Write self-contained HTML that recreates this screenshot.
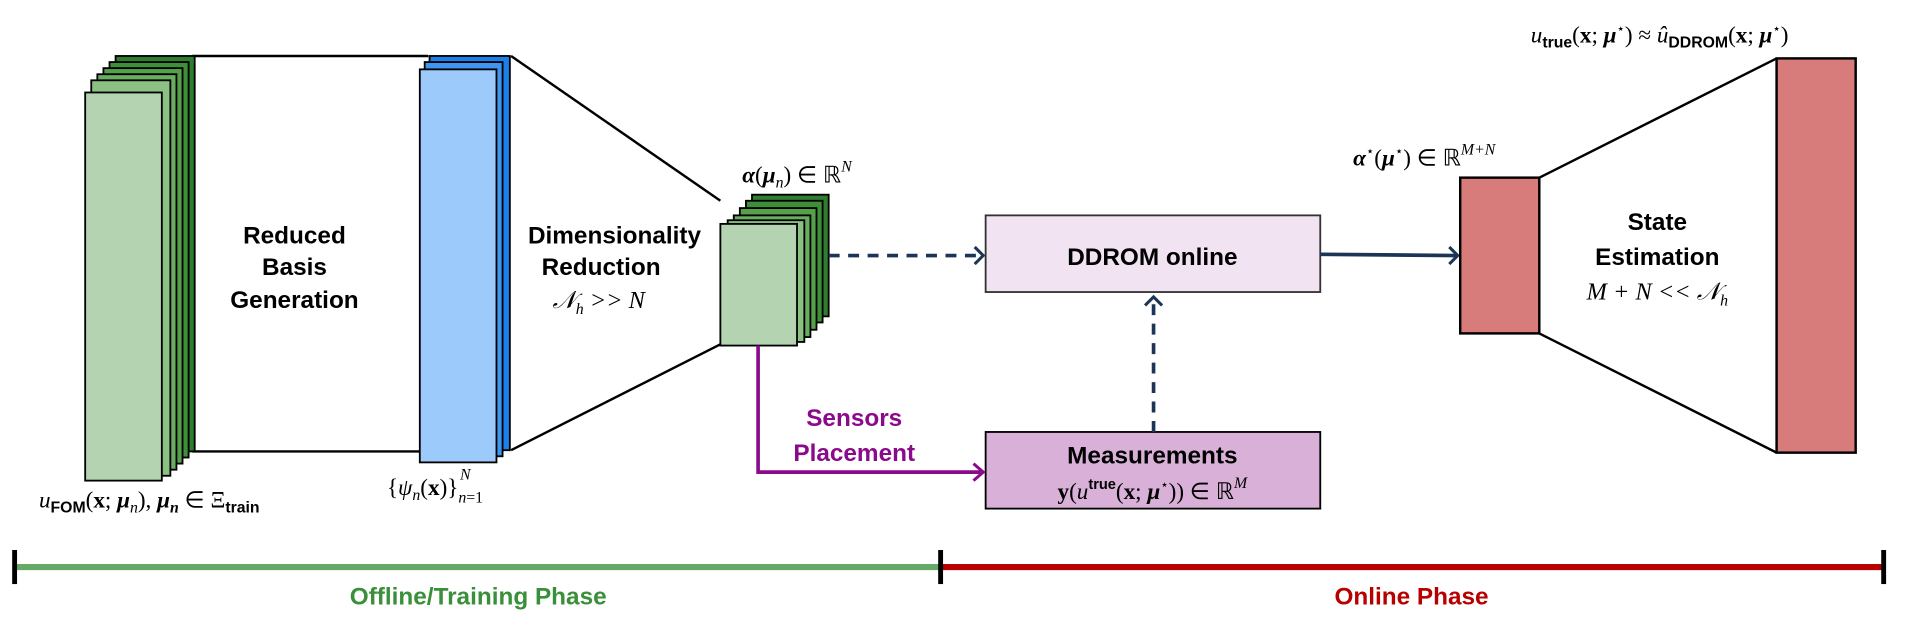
<!DOCTYPE html>
<html><head><meta charset="utf-8"><style>
html,body{margin:0;padding:0;background:#fff;}
svg{display:block;}
.b{font-family:"Liberation Sans",sans-serif;font-weight:bold;}
.m{font-family:"Liberation Serif",serif;font-style:italic;}
</style></head><body>
<svg width="1908" height="632" viewBox="0 0 1568 519.4" preserveAspectRatio="none" xmlns="http://www.w3.org/2000/svg">
<rect width="1568" height="520" fill="#fff"/>
<line x1="158" y1="46" x2="352" y2="46" stroke="#000" stroke-width="2"/>
<line x1="158" y1="371" x2="352" y2="371" stroke="#000" stroke-width="2"/>
<rect x="95" y="46" width="65" height="325" fill="#2f7d2f" stroke="#000" stroke-width="1.5"/>
<rect x="90" y="51" width="65" height="325" fill="#3f8f3a" stroke="#000" stroke-width="1.5"/>
<rect x="85" y="56" width="65" height="325" fill="#56a04c" stroke="#000" stroke-width="1.5"/>
<rect x="80" y="61" width="65" height="325" fill="#6aad62" stroke="#000" stroke-width="1.5"/>
<rect x="75" y="66" width="65" height="325" fill="#8cc184" stroke="#000" stroke-width="1.5"/>
<rect x="70" y="76" width="63" height="319" fill="#b3d3b1" stroke="#000" stroke-width="1.5"/>
<rect x="353" y="46" width="66" height="324" fill="#1a7fe8" stroke="#000" stroke-width="1.5"/>
<rect x="349" y="51" width="64" height="324" fill="#3f95f0" stroke="#000" stroke-width="1.5"/>
<rect x="345" y="57" width="63" height="323" fill="#9ccafb" stroke="#000" stroke-width="1.5"/>
<line x1="420" y1="46" x2="592" y2="165" stroke="#000" stroke-width="2"/>
<line x1="420" y1="370" x2="592" y2="283" stroke="#000" stroke-width="2"/>
<rect x="618" y="160" width="63" height="100" fill="#2f7d2f" stroke="#000" stroke-width="1.5"/>
<rect x="613" y="165" width="63" height="100" fill="#3f8f3a" stroke="#000" stroke-width="1.5"/>
<rect x="608" y="171" width="63" height="100" fill="#56a04c" stroke="#000" stroke-width="1.5"/>
<rect x="603" y="177" width="63" height="100" fill="#6aad62" stroke="#000" stroke-width="1.5"/>
<rect x="598" y="181" width="63" height="100" fill="#8cc184" stroke="#000" stroke-width="1.5"/>
<rect x="592" y="184" width="63" height="100" fill="#b3d3b1" stroke="#000" stroke-width="1.5"/>
<line x1="681" y1="210" x2="806" y2="210" stroke="#1c3557" stroke-width="3" stroke-dasharray="9,7"/>
<polyline points="801,203 808,210 801,217" fill="none" stroke="#1c3557" stroke-width="2.5"/>
<rect x="810" y="177" width="275" height="63" fill="#f1e3f1" stroke="#333" stroke-width="1.5"/>
<text x="947" y="218" class="b" font-size="20" text-anchor="middle">DDROM online</text>
<rect x="810" y="355" width="275" height="63" fill="#d8b0d8" stroke="#000" stroke-width="1.5"/>
<text x="947" y="381" class="b" font-size="20" text-anchor="middle">Measurements</text>
<text x="947" y="410" font-family="Liberation Serif,serif" font-size="19" text-anchor="middle"><tspan font-weight="bold">y</tspan>(<tspan font-style="italic">u</tspan><tspan class="b" font-size="12" dy="-8">true</tspan><tspan dy="8">(</tspan><tspan font-weight="bold">x</tspan>; <tspan font-weight="bold" font-style="italic">μ</tspan><tspan font-size="11" dy="-8">⋆</tspan><tspan dy="8">)) ∈ ℝ</tspan><tspan font-style="italic" font-size="13" dy="-9">M</tspan></text>
<line x1="948" y1="355" x2="948" y2="246" stroke="#1c3557" stroke-width="3" stroke-dasharray="9,7"/>
<polyline points="941,251 948,244 955,251" fill="none" stroke="#1c3557" stroke-width="2.5"/>
<polyline points="623,284 623,388 806,388" fill="none" stroke="#8b0a8b" stroke-width="3"/>
<polyline points="800,381 808,388 800,395" fill="none" stroke="#8b0a8b" stroke-width="2.5"/>
<text x="702" y="350" class="b" font-size="20" fill="#8b0a8b" text-anchor="middle">Sensors</text>
<text x="702" y="379" class="b" font-size="20" fill="#8b0a8b" text-anchor="middle">Placement</text>
<line x1="1085" y1="209" x2="1197" y2="210" stroke="#1c3557" stroke-width="3"/>
<polyline points="1191,203 1198,210 1191,217" fill="none" stroke="#1c3557" stroke-width="2.5"/>
<rect x="1200" y="146" width="65" height="128" fill="#d87b7b" stroke="#000" stroke-width="2"/>
<line x1="1265" y1="146" x2="1460" y2="48" stroke="#000" stroke-width="2"/>
<line x1="1265" y1="274" x2="1460" y2="372" stroke="#000" stroke-width="2"/>
<rect x="1460" y="48" width="65" height="324" fill="#d87b7b" stroke="#000" stroke-width="2"/>
<text x="1362" y="189" class="b" font-size="20" text-anchor="middle">State</text>
<text x="1362" y="218" class="b" font-size="20" text-anchor="middle">Estimation</text>
<text x="1362" y="246" class="m" font-size="20" text-anchor="middle">M + N &lt;&lt; 𝒩<tspan font-size="13" dy="5">h</tspan></text>
<text x="242" y="200" class="b" font-size="20" text-anchor="middle">Reduced</text>
<text x="242" y="226" class="b" font-size="20" text-anchor="middle">Basis</text>
<text x="242" y="253" class="b" font-size="20" text-anchor="middle">Generation</text>
<text x="505" y="200" class="b" font-size="20" text-anchor="middle">Dimensionality</text>
<text x="494" y="226" class="b" font-size="20" text-anchor="middle">Reduction</text>
<text x="492" y="253" class="m" font-size="20" text-anchor="middle">𝒩<tspan font-size="13" dy="5">h</tspan><tspan dy="-5"> &gt;&gt; N</tspan></text>
<text x="610" y="150" font-family="Liberation Serif,serif" font-size="19"><tspan font-weight="bold" font-style="italic">α</tspan>(<tspan font-weight="bold" font-style="italic">μ</tspan><tspan font-style="italic" font-size="13" dy="4">n</tspan><tspan dy="-4">) ∈ ℝ</tspan><tspan font-style="italic" font-size="13" dy="-9">N</tspan></text>
<text x="1112" y="136" font-family="Liberation Serif,serif" font-size="19"><tspan font-weight="bold" font-style="italic">α</tspan><tspan font-size="11" dy="-8">⋆</tspan><tspan dy="8">(</tspan><tspan font-weight="bold" font-style="italic">μ</tspan><tspan font-size="11" dy="-8">⋆</tspan><tspan dy="8">) ∈ ℝ</tspan><tspan font-style="italic" font-size="13" dy="-9">M+N</tspan></text>
<text x="1258" y="35" font-family="Liberation Serif,serif" font-size="19"><tspan font-style="italic">u</tspan><tspan class="b" font-size="13" dy="4">true</tspan><tspan dy="-4">(</tspan><tspan font-weight="bold">x</tspan>; <tspan font-weight="bold" font-style="italic">μ</tspan><tspan font-size="11" dy="-8">⋆</tspan><tspan dy="8">) ≈ </tspan><tspan font-style="italic">û</tspan><tspan class="b" font-size="13" dy="4">DDROM</tspan><tspan dy="-4">(</tspan><tspan font-weight="bold">x</tspan>; <tspan font-weight="bold" font-style="italic">μ</tspan><tspan font-size="11" dy="-8">⋆</tspan><tspan dy="8">)</tspan></text>
<text x="32" y="417" font-family="Liberation Serif,serif" font-size="19"><tspan font-style="italic">u</tspan><tspan class="b" font-size="13" dy="4">FOM</tspan><tspan dy="-4">(</tspan><tspan font-weight="bold">x</tspan>; <tspan font-weight="bold" font-style="italic">μ</tspan><tspan font-style="italic" font-size="13" dy="4">n</tspan><tspan dy="-4">),  </tspan><tspan font-weight="bold" font-style="italic">μ</tspan><tspan font-weight="bold" font-style="italic" font-size="13" dy="4">n</tspan><tspan dy="-4"> ∈ Ξ</tspan><tspan class="b" font-size="13" dy="4">train</tspan></text>
<text x="318" y="407" font-family="Liberation Serif,serif" font-size="19">{<tspan font-style="italic">ψ</tspan><tspan font-style="italic" font-size="13" dy="4">n</tspan><tspan dy="-4">(</tspan><tspan font-weight="bold">x</tspan>)}<tspan font-size="13" dy="6"><tspan font-style="italic">n</tspan>=1</tspan></text>
<text x="378" y="394" font-family="Liberation Serif,serif" font-style="italic" font-size="13">N</text>
<line x1="12" y1="466" x2="773" y2="466" stroke="#66a866" stroke-width="5"/>
<line x1="773" y1="466" x2="1548" y2="466" stroke="#b80000" stroke-width="5"/>
<rect x="10" y="452" width="4" height="28" fill="#000"/>
<rect x="771" y="452" width="4" height="28" fill="#000"/>
<rect x="1546" y="452" width="4" height="28" fill="#000"/>
<text x="393" y="497" class="b" font-size="20" fill="#3a8f3a" text-anchor="middle">Offline/Training Phase</text>
<text x="1160" y="497" class="b" font-size="20" fill="#b80000" text-anchor="middle">Online Phase</text>
</svg>
</body></html>
